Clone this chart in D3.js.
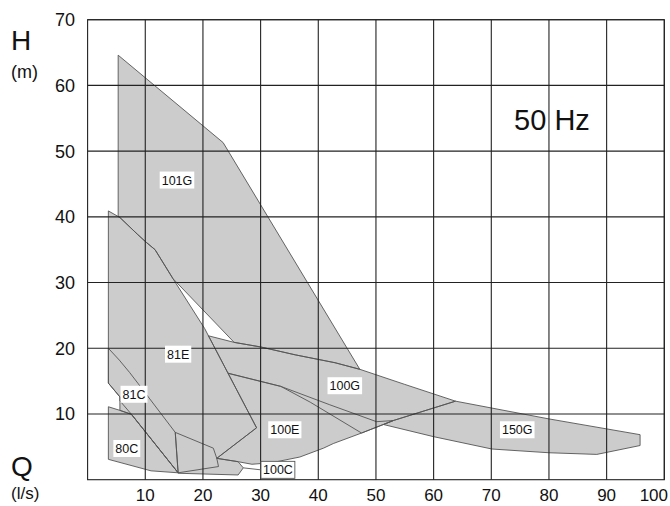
<!DOCTYPE html>
<html>
<head>
<meta charset="utf-8">
<script src="https://cdn.jsdelivr.net/npm/d3@7/dist/d3.min.js"></script>
<style>
  html, body { margin: 0; padding: 0; background: #fff; }
  svg { display: block; font-family: "Liberation Sans", Arial, sans-serif; }
</style>
</head>
<body>
<svg id="chart" width="670" height="506"></svg>
<script>
// Operating ranges of the pump hydraulics, [Q (l/s), H (m)]
const pump101G = [[5.3,64.6],[23.5,51.3],[47.2,16.8],[42.9,17.8],[36,19.0],[30,20.2],[25.4,20.9],
  [14.8,30.6],[11.7,35.0],[10.2,36.1],[8.7,37.3],[5.6,39.9],[5.3,40.05]];
const pump81E = [[3.6,40.9],[5.3,40.05],[5.6,39.9],[8.7,37.3],[10.2,36.1],[11.7,35.0],[14.8,30.6],
  [20.3,23.0],[29.3,7.9],[22.4,3.25],[22.7,2.0],[15.7,1.05],[7.6,9.95],[5.6,10.55],[5.6,12.6],[3.6,14.7]];
const pump81C = [[3.6,20.0],[5.5,18.2],[7.3,16.3],[8.7,14.7],[15.2,7.2],[15.7,1.05],[7.6,9.95],
  [5.6,12.0],[5.6,12.6],[3.6,14.7]];
const pump80C = [[3.6,11.1],[5.6,10.55],[7.6,9.95],[15.7,1.05],[11,1.35],[3.6,3.1]];
const pump100C = [[15.2,7.2],[21.8,4.8],[22.4,3.25],[26.1,2.74],[27.0,1.8],[26.1,0.72],[15.7,0.98]];
const pump100G = [[20.95,21.9],[25.4,20.9],[30,20.2],[36,19.0],[42.9,17.8],[47.2,16.8],[55,14.5],
  [63.8,11.95],[53,9.0],[51.3,8.4],[47.5,7.1],[38.6,11.8],[33.5,14.2],[24.35,16.2]];
const pump100E = [[24.35,16.2],[33.5,14.2],[42,11.4],[50.1,8.83],[53,9.0],[47.5,7.1],[42.6,5.5],
  [40.9,4.8],[36.8,3.45],[32,2.6],[28.5,2.35],[26.1,2.74],[22.4,3.25],[29.3,7.9]];
const pump150G = [[63.8,11.95],[70.1,10.9],[80,9.25],[95.8,6.85],[95.8,5.2],[88.3,3.85],[80,4.1],
  [70.1,4.67],[60,6.55],[51.3,8.4],[53,9.0]];

const pumpNames  = ["101G", "81E", "81C", "80C", "100E", "100G", "150G", "100C"];
const pumpAreas  = [pump101G, pump81E, pump81C, pump80C, pump100E, pump100G, pump150G, pump100C];
const labelPoint = [[15.5,45.6],[15.7,19.1],[8.05,13.0],[6.8,4.75],[34.2,7.6],[44.6,14.3],[74.5,7.6],[33.0,1.5]];
const pointerTip = [27.0, 1.8];   // 100C label points to the tip of its area

const qTicks = [10, 20, 30, 40, 50, 60, 70, 80, 90, 100];
const hTicks = [10, 20, 30, 40, 50, 60, 70];

const svg = d3.select("#chart");
const x = d3.scaleLinear().domain([0, 100]).range([87.6, 664.3]);
const y = d3.scaleLinear().domain([0, 70]).range([479.7, 19.7]);

const line = d3.line().x(d => x(d[0])).y(d => y(d[1])).curve(d3.curveLinearClosed);

// area fills first, then every outline on top
svg.append("g").selectAll("path").data(pumpAreas).join("path")
  .attr("d", line).attr("fill", "#cccccc").attr("stroke", "none");
svg.append("g").selectAll("path").data(pumpAreas).join("path")
  .attr("d", line).attr("fill", "none").attr("stroke", "#555").attr("stroke-width", 0.9)
  .attr("stroke-linejoin", "round");

// grid
const grid = svg.append("g").attr("stroke", "#222").attr("stroke-width", 1.1);
grid.selectAll("line.v").data(qTicks).join("line").attr("class", "v")
  .attr("x1", d => x(d)).attr("x2", d => x(d)).attr("y1", y(0)).attr("y2", y(70));
grid.selectAll("line.h").data(hTicks).join("line").attr("class", "h")
  .attr("x1", x(0)).attr("x2", x(100)).attr("y1", d => y(d)).attr("y2", d => y(d));
grid.append("rect").attr("x", x(0)).attr("y", y(70))
  .attr("width", x(100) - x(0)).attr("height", y(0) - y(70)).attr("fill", "none");

// tick labels
svg.append("g").selectAll("text").data(hTicks).join("text")
  .attr("x", 75).attr("y", d => y(d)).attr("dy", "0.36em")
  .attr("text-anchor", "end").attr("font-size", 18).attr("fill", "#111").text(d => d);
svg.append("g").selectAll("text").data(qTicks).join("text")
  .attr("x", d => d === 100 ? 668 : x(d)).attr("y", 501)
  .attr("text-anchor", d => d === 100 ? "end" : "middle")
  .attr("font-size", 17).attr("fill", "#111").text(d => d);

// axis titles
svg.append("text").attr("x", 11).attr("y", 50).attr("font-size", 28).attr("fill", "#111").text("H");
svg.append("text").attr("x", 11).attr("y", 78).attr("font-size", 18).attr("fill", "#111").text("(m)");
svg.append("text").attr("x", 11).attr("y", 476).attr("font-size", 28).attr("fill", "#111").text("Q");
svg.append("text").attr("x", 11).attr("y", 499).attr("font-size", 17).attr("fill", "#111").text("(l/s)");
svg.append("text").attr("x", 552).attr("y", 130).attr("text-anchor", "middle")
  .attr("font-size", 29).attr("fill", "#111").text("50 Hz");

// pointer for the 100C label
svg.append("line").attr("x1", x(pointerTip[0])).attr("y1", y(pointerTip[1]))
  .attr("x2", x(labelPoint[7][0]) - 17).attr("y2", y(labelPoint[7][1]))
  .attr("stroke", "#555").attr("stroke-width", 0.9);

// area labels
const lab = svg.append("g").selectAll("g").data(pumpNames).join("g")
  .attr("transform", (d, i) => `translate(${x(labelPoint[i][0])},${y(labelPoint[i][1])})`);
lab.append("text").attr("text-anchor", "middle").attr("dy", "0.36em")
  .attr("font-size", 12.5).attr("fill", "#111").text(d => d);
lab.each(function(d) {
  const g = d3.select(this);
  const b = g.select("text").node().getBBox();
  g.insert("rect", "text").attr("x", b.x - 2).attr("y", -8.5).attr("width", b.width + 4).attr("height", 17)
    .attr("fill", "#fff").attr("stroke", d === "100C" ? "#555" : "none").attr("stroke-width", 0.9);
});
</script>
</body>
</html>
